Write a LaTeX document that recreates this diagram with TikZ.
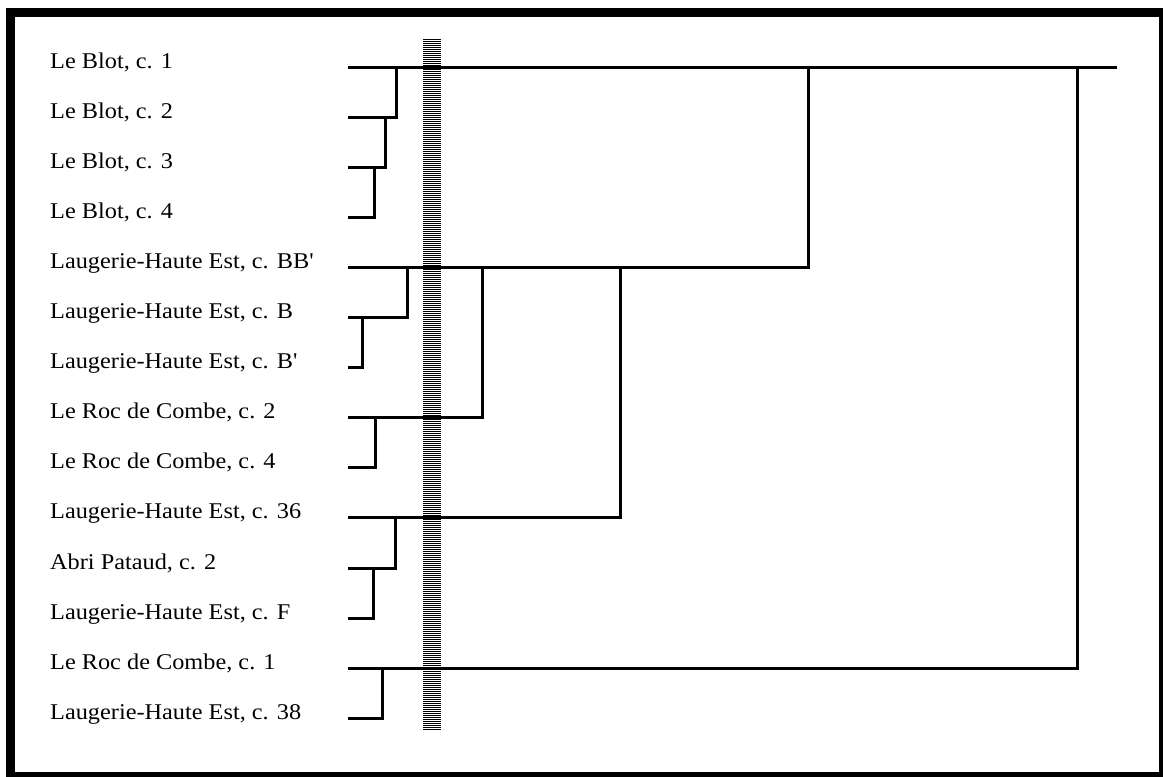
\documentclass[tikz,border=0pt]{standalone}
\usepackage{fontspec}
\setmainfont{Liberation Serif}[FakeStretch=1.08]
\begin{document}
\begin{tikzpicture}[x=1pt,y=-1pt,
  lbl/.style={anchor=base west,inner sep=0pt,font=\fontsize{22.5}{27}\selectfont},
  link/.style={line width=3pt,line cap=rect,line join=miter}]
\useasboundingbox (0,0) rectangle (1163,777);
\fill[white] (0,0) rectangle (1163,777);
% frame
\fill[black] (6,8) rectangle (1163,777);
\fill[white] (15,17) rectangle (1159,772);
% hatched bar
\foreach \yy in {39,41,...,729} \fill[black] (423,\yy) rectangle (441,\yy+1.2);
% labels and leaf coordinates
\foreach \i/\t in {1/{Le Blot, c. 1},2/{Le Blot, c. 2},3/{Le Blot, c. 3},4/{Le Blot, c. 4},
  5/{Laugerie-Haute Est, c. BB\textquotesingle},6/{Laugerie-Haute Est, c. B},7/{Laugerie-Haute Est, c. B\textquotesingle},
  8/{Le Roc de Combe, c. 2},9/{Le Roc de Combe, c. 4},10/{Laugerie-Haute Est, c. 36},
  11/{Abri Pataud, c. 2},12/{Laugerie-Haute Est, c. F},13/{Le Roc de Combe, c. 1},
  14/{Laugerie-Haute Est, c. 38}}{
  \pgfmathsetmacro{\yv}{67+50.1*(\i-1)}
  \node[lbl] (t\i) at (50,\yv+1) {\t};
  \coordinate (l\i) at (349,\yv);
}
% junctions
\coordinate (b34) at (374,167.2);
\coordinate (b23) at (385,117.1);
\coordinate (b12) at (396,67);
\coordinate (e1) at (1115,67);
\coordinate (b67) at (362,317.6);
\coordinate (b56) at (407,267.4);
\coordinate (b89) at (375,417.7);
\coordinate (b58) at (482,267.4);
\coordinate (b1112) at (373,568);
\coordinate (b1011) at (395,517.9);
\coordinate (b510) at (620,267.4);
\coordinate (b15) at (808,67);
\coordinate (b1314) at (382,668.3);
\coordinate (b113) at (1077,67);
% connectors
\draw[link] (l4) -| (b34);
\draw[link] (l3) -| (b23);
\draw[link] (l2) -| (b12);
\draw[link] (l1) -- (e1);
\draw[link] (l7) -| (b67);
\draw[link] (l6) -| (b56);
\draw[link] (l9) -| (b89);
\draw[link] (l8) -| (b58);
\draw[link] (l12) -| (b1112);
\draw[link] (l11) -| (b1011);
\draw[link] (l10) -| (b510);
\draw[link] (l5) -| (b15);
\draw[link] (l14) -| (b1314);
\draw[link] (l13) -| (b113);
\end{tikzpicture}
\end{document}
